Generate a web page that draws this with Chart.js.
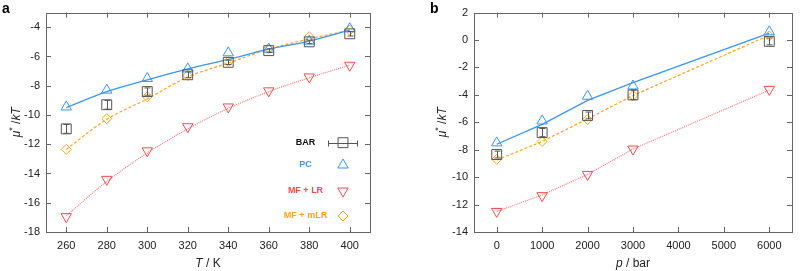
<!DOCTYPE html>
<html lang="en">
<head>
    <meta charset="UTF-8">
    <title>Chemical potential vs T and p</title>
    <script src="https://cdn.jsdelivr.net/npm/chart.js"></script>
    <style>
        body, html { margin: 0; padding: 0; background: #fff; }
        .wrap { display: flex; width: 800px; height: 271px; }
        canvas { display: block; }
    </style>
</head>
<body>
<div class="wrap">
    <canvas id="chartT" width="400" height="271"></canvas>
    <canvas id="chartP" width="400" height="271"></canvas>
</div>

<script>
    // ---- panel a: temperature scan ----
    const temps = [260, 280, 300, 320, 340, 360, 380, 400];
    const barT = [-10.95, -9.3, -8.4, -7.25, -6.4, -5.6, -5.0, -4.45];
    const barTErr = [0.3, 0.3, 0.25, 0.2, 0.15, 0.12, 0.12, 0.15];
    const pcT = [-9.45, -8.3, -7.5, -6.85, -5.75, -5.5, -4.95, -4.1];
    const lrT = [-16.95, -14.4, -12.45, -10.8, -9.45, -8.35, -7.4, -6.6];
    const mlrT = [-12.35, -10.25, -8.75, -7.3, -6.35, -5.45, -4.65, -4.2];
    const pcTFit = [-9.5, -8.4, -7.6, -6.85, -6.2, -5.5, -4.95, -4.2];
    const lrTFit = [-16.9, -14.55, -12.6, -10.95, -9.55, -8.4, -7.45, -6.6];
    const mlrTFit = [-12.35, -10.3, -8.9, -7.4, -6.45, -5.5, -4.8, -4.2];
    const tTicks = [260, 280, 300, 320, 340, 360, 380, 400];
    const muTicksT = [-18, -16, -14, -12, -10, -8, -6, -4];

    // ---- panel b: pressure scan ----
    const pressures = [0, 1000, 2000, 3000, 6000];
    const barP = [-8.35, -6.75, -5.5, -4.0, -0.1];
    const barPErr = [0.25, 0.3, 0.25, 0.35, 0.25];
    const pcP = [-7.5, -5.9, -4.1, -3.35, 0.6];
    const lrP = [-12.5, -11.35, -9.8, -7.95, -3.6];
    const mlrP = [-8.7, -7.4, -5.8, -4.05, 0.3];
    const pcPFit = [-7.6, -6.15, -4.4, -3.1, 0.5];
    const lrPFit = [-12.5, -11.3, -9.8, -7.95, -3.65];
    const mlrPFit = [-8.75, -7.4, -5.75, -4.05, 0.35];
    const pTicks = [0, 1000, 2000, 3000, 4000, 5000, 6000];
    const muTicksP = [-14, -12, -10, -8, -6, -4, -2, 0, 2];

    const seriesNames = ['BAR', 'PC', 'MF + LR', 'MF + mLR'];

    const BAR_COL = '#555555';
    const PC_COL = '#3a96f2';
    const LR_COL = '#ff4a4a';
    const LR_LINE = '#ff7878';
    const MLR_COL = '#ffa31a';
    const FRAME = '#666666';
    const FONT = "'Liberation Sans', Arial, sans-serif";

    function pts(xs, ys) {
        return xs.map((x, i) => ({ x: x, y: ys[i] }));
    }

    function buildDatasets(xs, bar, barErr, pc, lr, mlr, pcFit, lrFit, mlrFit, smooth) {
        const fit = (label, ys, col, dash, w) => ({
            label: label, data: pts(xs, ys), showLine: true, pointRadius: 0,
            borderColor: col, borderWidth: w, borderDash: dash,
            cubicInterpolationMode: smooth ? 'monotone' : 'default', tension: 0
        });
        const marks = (label, ys, col, style, r, rot) => ({
            label: label, data: pts(xs, ys), showLine: false,
            pointStyle: style, pointRadius: r, pointRotation: rot || 0,
            pointBorderColor: col, pointBackgroundColor: 'rgba(0,0,0,0)', pointBorderWidth: 1
        });
        const barSet = marks(seriesNames[0], bar, BAR_COL, 'rect', 7);
        barSet.errors = barErr;
        return [
            barSet,
            marks(seriesNames[1], pc, PC_COL, 'triangle', 6),
            marks(seriesNames[2], lr, LR_COL, 'triangle', 6, 180),
            marks(seriesNames[3], mlr, MLR_COL, 'rectRot', 5),
            fit('PC fit', pcFit, PC_COL, [], 1.3),
            fit('LR fit', lrFit, LR_LINE, [1, 1], 1.2),
            fit('mLR fit', mlrFit, MLR_COL, [3, 2], 1.2)
        ];
    }

    // write a run of text pieces, some italic, centred on x
    function richText(ctx, parts, x, y) {
        let total = 0;
        parts.forEach(p => { ctx.font = p.font; total += ctx.measureText(p.t).width; });
        let cx = x - total / 2;
        parts.forEach(p => {
            ctx.font = p.font;
            ctx.fillText(p.t, cx, y + (p.dy || 0));
            cx += ctx.measureText(p.t).width;
        });
    }

    function decorPlugin(cfg) {
        return {
            id: 'decor',
            afterDatasetsDraw(chart) {
                const { ctx, scales: { x, y } } = chart;
                const ds = chart.data.datasets[0];
                ctx.save();
                ctx.strokeStyle = BAR_COL;
                ctx.lineWidth = 1;
                ds.data.forEach((p, i) => {
                    const px = Math.round(x.getPixelForValue(p.x)) + 0.5;
                    const y1 = y.getPixelForValue(p.y - ds.errors[i]);
                    const y2 = y.getPixelForValue(p.y + ds.errors[i]);
                    ctx.beginPath();
                    ctx.moveTo(px, y1); ctx.lineTo(px, y2);
                    ctx.moveTo(px - 3, y1); ctx.lineTo(px + 3, y1);
                    ctx.moveTo(px - 3, y2); ctx.lineTo(px + 3, y2);
                    ctx.stroke();
                });
                ctx.restore();
            },
            afterDraw(chart) {
                const { ctx, chartArea: a, scales: { x, y } } = chart;
                ctx.save();
                ctx.strokeStyle = FRAME;
                ctx.lineWidth = 1;
                ctx.strokeRect(Math.round(a.left) + 0.5, Math.round(a.top) + 0.5,
                    Math.round(a.right - a.left), Math.round(a.bottom - a.top));
                ctx.beginPath();
                x.ticks.forEach(t => {
                    const px = Math.round(x.getPixelForValue(t.value)) + 0.5;
                    ctx.moveTo(px, a.bottom); ctx.lineTo(px, a.bottom - 5);
                    ctx.moveTo(px, a.top); ctx.lineTo(px, a.top + 5);
                });
                y.ticks.forEach(t => {
                    const py = Math.round(y.getPixelForValue(t.value)) + 0.5;
                    ctx.moveTo(a.left, py); ctx.lineTo(a.left + 5, py);
                    ctx.moveTo(a.right, py); ctx.lineTo(a.right - 5, py);
                });
                ctx.stroke();

                // panel letter
                ctx.fillStyle = '#000';
                ctx.textBaseline = 'alphabetic';
                ctx.textAlign = 'left';
                ctx.font = 'bold 14px ' + FONT;
                ctx.fillText(cfg.letter, cfg.letterX, 13);

                // x title
                ctx.fillStyle = '#222';
                richText(ctx, [
                    { t: cfg.xVar, font: 'italic 12px ' + FONT },
                    { t: ' / ' + cfg.xUnit, font: '12px ' + FONT }
                ], (a.left + a.right) / 2, 267);

                // y title, rotated
                ctx.save();
                ctx.translate(cfg.yTitleX, (a.top + a.bottom) / 2);
                ctx.rotate(-Math.PI / 2);
                richText(ctx, [
                    { t: 'μ', font: 'italic 12px ' + FONT },
                    { t: '*', font: '9px ' + FONT, dy: -5 },
                    { t: ' /', font: '12px ' + FONT },
                    { t: 'kT', font: 'italic 12px ' + FONT }
                ], 0, 4);
                ctx.restore();

                if (cfg.legend) drawLegend(chart);
                ctx.restore();
            }
        };
    }

    function drawLegend(chart) {
        const ctx = chart.ctx;
        const rows = [142.7, 165, 191, 216];
        const cols = ['#111', PC_COL, LR_COL, MLR_COL];
        const textX = 305.5, symX = 343;
        ctx.textAlign = 'center';
        ctx.textBaseline = 'middle';
        ctx.font = 'bold 9px ' + FONT;
        seriesNames.forEach((name, i) => {
            ctx.fillStyle = cols[i];
            ctx.fillText(name, textX, rows[i]);
            const ds = chart.data.datasets[i];
            ctx.strokeStyle = ds.pointBorderColor;
            ctx.fillStyle = 'rgba(0,0,0,0)';
            ctx.lineWidth = 1;
            Chart.helpers.drawPoint(ctx, {
                pointStyle: ds.pointStyle, radius: ds.pointRadius,
                rotation: ds.pointRotation, borderWidth: 1
            }, symX, rows[i]);
        });
        // error bar sample next to BAR
        ctx.strokeStyle = BAR_COL;
        ctx.beginPath();
        const yy = Math.round(rows[0]) + 0.5;
        ctx.moveTo(328, yy); ctx.lineTo(358, yy);
        ctx.moveTo(328.5, yy - 3); ctx.lineTo(328.5, yy + 3);
        ctx.moveTo(357.5, yy - 3); ctx.lineTo(357.5, yy + 3);
        ctx.stroke();
    }

    function makeChart(id, datasets, xr, yr, xTicks, yTicks, yAxisW, padRight, cfg) {
        const fixTicks = list => (scale => { scale.ticks = list.map(v => ({ value: v })); });
        const plain = v => String(v);
        return new Chart(document.getElementById(id), {
            type: 'scatter',
            data: { datasets: datasets },
            plugins: [decorPlugin(cfg)],
            options: {
                responsive: false,
                animation: false,
                layout: { padding: { top: 8, right: padRight, left: 0, bottom: 0 } },
                plugins: { legend: { display: false }, tooltip: { enabled: false } },
                scales: {
                    x: {
                        type: 'linear', min: xr[0], max: xr[1],
                        afterBuildTicks: fixTicks(xTicks),
                        afterFit: s => { s.height = 39; },
                        grid: { display: false, drawTicks: false },
                        border: { display: false },
                        ticks: { color: '#222', padding: 7, font: { family: FONT, size: 11 }, maxRotation: 0, callback: plain }
                    },
                    y: {
                        type: 'linear', min: yr[0], max: yr[1],
                        afterBuildTicks: fixTicks(yTicks),
                        afterFit: s => { s.width = yAxisW; },
                        grid: { display: false, drawTicks: false },
                        border: { display: false },
                        ticks: { color: '#222', padding: 6, font: { family: FONT, size: 11 }, callback: plain }
                    }
                }
            }
        });
    }

    makeChart('chartT',
        buildDatasets(temps, barT, barTErr, pcT, lrT, mlrT, pcTFit, lrTFit, mlrTFit, true),
        [250, 410], [-18, -3], tTicks, muTicksT, 46, 30,
        { letter: 'a', letterX: 2, xVar: 'T', xUnit: 'K', yTitleX: 16, legend: true });

    makeChart('chartP',
        buildDatasets(pressures, barP, barPErr, pcP, lrP, mlrP, pcPFit, lrPFit, mlrPFit, false),
        [-500, 6500], [-14, 2], pTicks, muTicksP, 74, 2,
        { letter: 'b', letterX: 30, xVar: 'p', xUnit: 'bar', yTitleX: 42, legend: false });
</script>
</body>
</html>
